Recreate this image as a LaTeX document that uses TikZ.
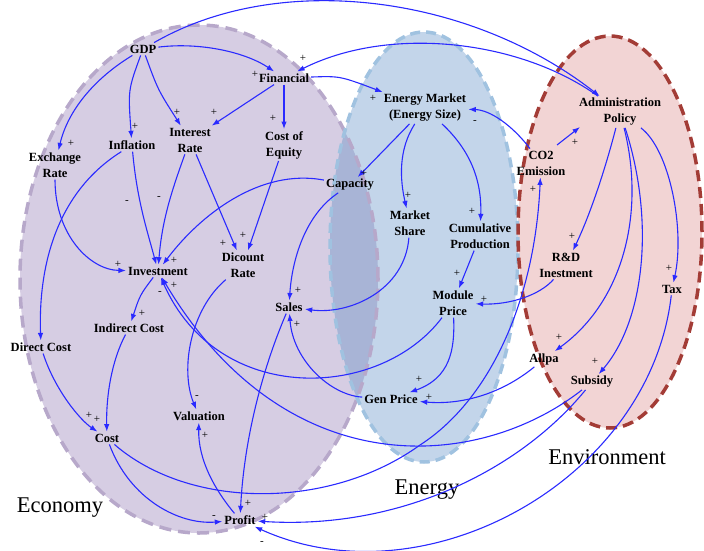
\documentclass[tikz,border=0pt]{standalone}
\usepackage{fontspec}
\setmainfont{Liberation Serif}
\usetikzlibrary{arrows.meta,calc}
\definecolor{ecofill}{HTML}{D6CDE3}
\definecolor{ecoline}{HTML}{B7A8CA}
\definecolor{enfill}{HTML}{C3D5EA}
\definecolor{enline}{HTML}{A0C2E0}
\definecolor{ovfill}{HTML}{A8B4D6}
\definecolor{envfill}{HTML}{F2D4D4}
\definecolor{envline}{HTML}{A33C36}
\definecolor{link}{HTML}{2A2AFF}
\begin{document}
\begin{tikzpicture}[x=1pt,y=-1pt,
  var/.style={font=\bfseries\fontsize{12.5}{16}\selectfont, align=center, inner sep=2pt},
  pol/.style={font=\fontsize{11}{11}\selectfont, inner sep=0pt},
  sector/.style={font=\fontsize{22.5}{24}\selectfont, inner sep=0pt},
  arr/.style={draw=link, line width=1.1pt, -{Latex[length=7.5pt,width=5.5pt]}},
  ecoshape/.style={x radius=179pt, y radius=254pt},
  enshape/.style={x radius=94pt, y radius=215pt},
  envshape/.style={x radius=92pt, y radius=196pt}
]
\useasboundingbox (0,0) rectangle (704,550);
% sector ellipses
\fill[ecofill] (199,279) ellipse [ecoshape];
\fill[enfill] (424,247) ellipse [enshape];
\begin{scope}
  \clip (199,279) ellipse [ecoshape];
  \fill[ovfill] (424,247) ellipse [enshape];
\end{scope}
\fill[envfill] (610,232) ellipse [envshape];
\draw[ecoline, line width=3.5pt, dash pattern=on 12pt off 7pt] (199,279) ellipse [ecoshape];
\draw[enline, line width=3.5pt, dash pattern=on 10pt off 6pt] (424,247) ellipse [enshape];
\draw[envline, line width=3.5pt, dash pattern=on 11pt off 6pt] (610,232) ellipse [envshape];

% variables
\node[var] (gdp) at (143,49) {GDP};
\node[var] (fin) at (284,78) {Financial};
\node[var] (exr) at (55,165) {Exchange\\Rate};
\node[var] (inf) at (132,145) {Inflation};
\node[var] (intr) at (190,140) {Interest\\Rate};
\node[var] (coe) at (284,145) {Cost of\\Equity};
\node[var] (em) at (425,108) {Energy Market\\(Energy Size)};
\node[var] (adm) at (620,112) {Administration\\Policy};
\node[var] (co2) at (541,163) {CO2\\Emission};
\node[var] (cap) at (350,185) {Capacity};
\node[var] (ms) at (410,223) {Market\\Share};
\node[var] (cum) at (480,236) {Cumulative\\Production};
\node[var] (rd) at (566,265) {R\&D\\Inestment};
\node[var] (tax) at (672,289) {Tax};
\node[var] (inv) at (158,271) {Investment};
\node[var] (dr) at (243,265) {Dicount\\Rate};
\node[var] (mp) at (453,303) {Module\\Price};
\node[var] (sales) at (289,307) {Sales};
\node[var] (ic) at (129,328) {Indirect Cost};
\node[var] (dc) at (41,347) {Direct Cost};
\node[var] (allpa) at (544,359) {Allpa};
\node[var] (sub) at (592,382) {Subsidy};
\node[var] (gp) at (391,399) {Gen Price};
\node[var] (val) at (199,416) {Valuation};
\node[var] (cost) at (107,438) {Cost};
\node[var] (profit) at (240,520) {Profit};

% sector names
\node[sector] (sEco) at (60,508) {Economy};
\node[sector] (sEn) at (427,490) {Energy};
\node[sector] (sEnv) at (607,457) {Environment};

% links
\draw[arr] (gdp) .. controls (200,42) and (245,52) .. (fin);
\draw[arr] (gdp) .. controls (95,78) and (68,110) .. (exr);
\draw[arr] (gdp) .. controls (128,90) .. (inf);
\draw[arr] (gdp) .. controls (158,90) .. (intr);
\draw[arr] (gdp) .. controls (280,-30) and (470,-5) .. (adm);
\draw[arr] (adm) .. controls (520,40) and (390,25) .. (fin);
\draw[arr] (fin) -- (intr);
\draw[arr] (fin) -- (coe);
\draw[arr] (fin) .. controls (340,76) .. (em);
\draw[arr] (co2) .. controls (512,125) and (490,110) .. (em);
\draw[arr] ($(co2)+(16,-18)$) -- ($(adm)+(-40,15)$);
\draw[arr] (em) -- (cap);
\draw[arr] (em) .. controls (398,150) and (400,180) .. (ms);
\draw[arr] (em) .. controls (470,150) and (482,180) .. (cum);
\draw[arr] (cum) -- (mp);
\draw[arr] (ms) .. controls (405,290) and (350,315) .. (sales);
\draw[arr] (cap) .. controls (305,215) and (292,260) .. (sales);
\draw[arr] (cap) .. controls (260,168) and (200,215) .. (inv);
\draw[arr] (exr) .. controls (55,235) and (90,270) .. (inv);
\draw[arr] (inf) .. controls (137,200) and (147,230) .. (inv);
\draw[arr] (intr) .. controls (172,190) and (162,220) .. (inv);
\draw[arr] (inf) .. controls (60,190) and (38,260) .. (dc);
\draw[arr] (intr) -- (dr);
\draw[arr] (coe) -- (dr);
\draw[arr] (inv) .. controls (140,295) .. (ic);
\draw[arr] (ic) .. controls (112,360) and (106,395) .. (cost);
\draw[arr] (dc) .. controls (55,390) and (80,420) .. (cost);
\draw[arr] (dr) .. controls (190,310) and (180,370) .. (val);
\draw[arr] (profit) .. controls (215,490) and (198,460) .. (val);
\draw[arr] (sales) .. controls (262,370) and (244,440) .. (profit);
\draw[arr] (gp) .. controls (330,395) and (293,360) .. (sales);
\draw[arr] (mp) .. controls (455,350) and (450,378) .. (gp);
\draw[arr] (mp) .. controls (380,400) and (218,407) .. (inv);
\draw[arr] (sub) .. controls (480,470) and (287,488) .. (inv);
\draw[arr] (allpa) .. controls (500,395) and (460,405) .. (gp);
\draw[arr] (adm) .. controls (605,170) and (590,215) .. (rd);
\draw[arr] (adm) .. controls (645,210) and (625,300) .. (allpa);
\draw[arr] (adm) .. controls (655,220) and (645,320) .. (sub);
\draw[arr] (adm) .. controls (670,150) and (685,230) .. (tax);
\draw[arr] (rd) .. controls (540,295) and (510,305) .. (mp);
\draw[arr] (cost) .. controls (130,500) and (180,525) .. (profit);
\draw[arr] (cost) .. controls (190,510) and (330,510) .. (420,445)
                  .. controls (490,400) and (535,300) .. (co2);
\draw[arr] (sub) .. controls (520,470) and (400,530) .. (profit);
\draw[arr] (tax) .. controls (650,480) and (425,604) .. (profit);

% polarities
\node[pol] (p1) at (255,74) {+};
\node[pol] (p2) at (303,58) {+};
\node[pol] (p3) at (71,143) {+};
\node[pol] (p4) at (135,126) {+};
\node[pol] (p5) at (177,112) {+};
\node[pol] (p6) at (214,112) {+};
\node[pol] (p7) at (273,118) {+};
\node[pol] (p8) at (373,98) {+};
\node[pol] (p9) at (475,122) {-};
\node[pol] (p10) at (575,142) {+};
\node[pol] (p11) at (364,173) {+};
\node[pol] (p12) at (408,195) {+};
\node[pol] (p13) at (472,211) {+};
\node[pol] (p14) at (533,189) {+};
\node[pol] (p15) at (572,236) {+};
\node[pol] (p16) at (669,268) {+};
\node[pol] (p17) at (457,273) {+};
\node[pol] (p18) at (484,299) {+};
\node[pol] (p19) at (559,337) {+};
\node[pol] (p20) at (595,361) {+};
\node[pol] (p21) at (419,379) {+};
\node[pol] (p22) at (429,397) {+};
\node[pol] (p23) at (298,290) {+};
\node[pol] (p24) at (297,324) {+};
\node[pol] (p25) at (118,264) {+};
\node[pol] (p26) at (127,202) {-};
\node[pol] (p27) at (159,198) {-};
\node[pol] (p28) at (174,260) {+};
\node[pol] (p29) at (174,285) {+};
\node[pol] (p30) at (160,293) {-};
\node[pol] (p31) at (223,243) {+};
\node[pol] (p32) at (243,235) {+};
\node[pol] (p33) at (142,313) {+};
\node[pol] (p34) at (89,415) {+};
\node[pol] (p35) at (97,419) {+};
\node[pol] (p36) at (197,397) {-};
\node[pol] (p37) at (205,435) {+};
\node[pol] (p38) at (248,503) {+};
\node[pol] (p39) at (214,517) {-};
\node[pol] (p40) at (265,517) {+};
\node[pol] (p41) at (262,543) {-};
\end{tikzpicture}
\end{document}
